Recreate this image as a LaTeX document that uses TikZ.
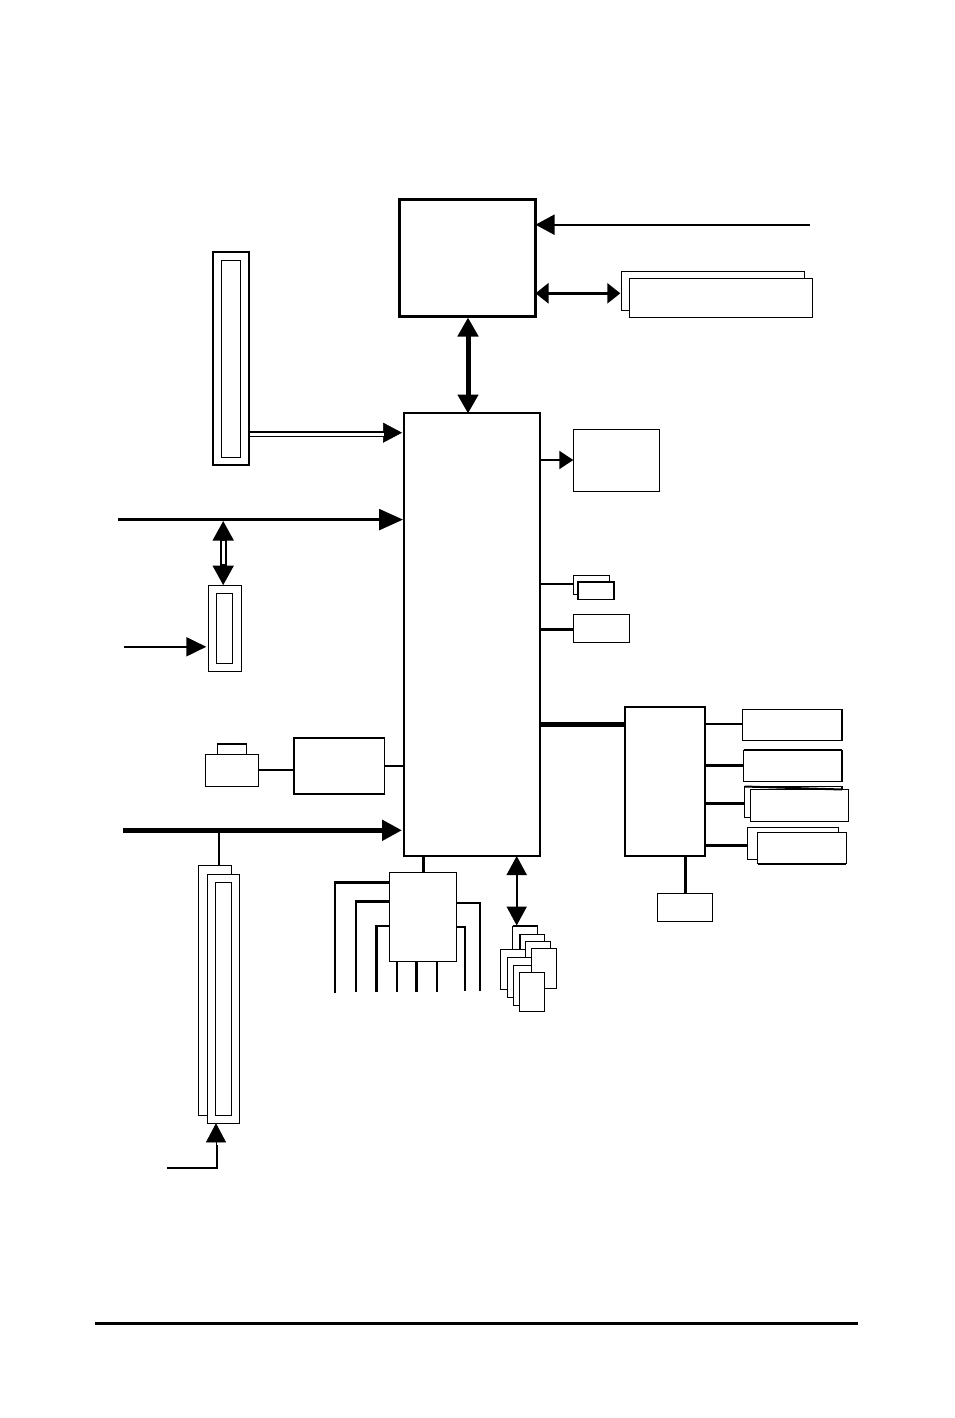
\documentclass[tikz,border=0pt]{standalone}
\usetikzlibrary{arrows.meta}
\tikzset{
  x=0.5pt,y=-0.5pt,
  hA/.tip={Triangle[length=9.5pt,width=10pt]},
  hB/.tip={Triangle[length=6.5pt,width=10pt]},
  hC/.tip={Triangle[length=7pt,width=9pt]},
  hD/.tip={Triangle[length=10pt,width=9.5pt]},
  hE/.tip={Triangle[length=10pt,width=10pt]},
  lw/.style={line width=#1*0.5pt},
  wire/.style={draw=black,line width=#1*0.5pt},
  bx/.style={draw=black,fill=white,inner sep=0pt,outer sep=0pt,line width=#1*0.5pt},
  bx/.default=1
}
\newcommand{\bxx}[6][1]{%
  \pgfmathsetmacro{\bxw}{abs(#5-#3)*0.5}%
  \pgfmathsetmacro{\bxh}{abs(#6-#4)*0.5}%
  \pgfmathsetmacro{\bxcx}{(#3+#5)/2}%
  \pgfmathsetmacro{\bxcy}{(#4+#6)/2}%
  \node[bx=#1,minimum width=\bxw pt,minimum height=\bxh pt] (#2) at (\bxcx,\bxcy) {};%
}
\begin{document}
\begin{tikzpicture}
\fill[white] (0,0) rectangle (954,1418);
\useasboundingbox (0,0) rectangle (954,1418);

% free ends
\coordinate (fsbR) at (810,224.7);
\coordinate (pciL) at (118,519.6);
\coordinate (auxL) at (124,646.8);
\coordinate (busL) at (122.7,830.3);
\coordinate (lowL) at (167,1168);
\coordinate (lowC) at (217,1168);
\coordinate (ruleL) at (95,1323);
\coordinate (ruleR) at (858,1323);
\coordinate (f1) at (335.3,992.5);
\coordinate (f2) at (356,991.7);
\coordinate (f3) at (376.3,991.7);
\coordinate (f4) at (397,991.7);
\coordinate (f5) at (416.3,991.7);
\coordinate (f6) at (437,991.7);
\coordinate (f7) at (465,990.7);
\coordinate (f8) at (480,990.7);

% main boxes
\bxx[2.7]{cpu}{399.3}{199.3}{535.5}{316.3}
\bxx[2.3]{main}{404}{413}{540}{856}
\bxx[1]{agpb}{573.3}{429.5}{659.7}{491.7}
\bxx[1]{memB}{621.3}{271}{804.7}{310.7}
\bxx[1.2]{memF}{629.3}{278.3}{812.2}{317.3}

% tall connector upper left
\bxx[1.3]{tallA}{213}{252}{249}{465}
\bxx[1]{tallAi}{221.3}{260}{240.7}{457.3}
% middle slot
\bxx[1]{slot}{208.3}{585.5}{241.7}{671.3}
\bxx[1]{sloti}{216.3}{593.5}{232.7}{663.3}
% bottom slots
\bxx[1]{lowB}{198.5}{865.5}{231.5}{1115}
\bxx[1]{lowF}{207.5}{874.5}{239.3}{1123.3}
\bxx[1]{lowI}{215.5}{882.5}{231.5}{1115.5}
% lan + phy
\bxx[1.5]{jack}{217.7}{744}{246.3}{754.5}
\bxx[1]{lan}{205.5}{754.5}{258.3}{786.3}
\bxx[1.3]{phy}{294}{738}{384.7}{794}
\draw[wire=1.7] (lan.north west) -- (lan.north east);

% small right
\bxx[1]{s1b}{573.5}{575.3}{609.7}{594.3}
\bxx[1.2]{s1f}{578}{582}{614}{599.3}
\bxx[1]{s2}{573.5}{614.5}{629.3}{642.3}

% hub and its peripherals
\bxx[2]{hub}{625.3}{707.3}{705.3}{856}
\bxx[1]{r1}{742.5}{709.5}{842}{740.3}
\bxx[1.2]{r2}{743.5}{750.3}{842}{781.3}
\bxx[1.2]{r3b}{744.5}{786.5}{842}{817.3}
\bxx[1]{r3f}{750.5}{789.5}{848.3}{821.3}
\bxx[1]{r4b}{747.5}{827.5}{838.3}{859.3}
\bxx[1.2]{r4f}{757.5}{832.5}{846.3}{863.7}
\bxx[1]{io}{657.5}{893.5}{712.3}{921.3}

% heavier sides
\draw[wire=2] (r1.north east) -- (r1.south east);
\draw[wire=2] (r2.north east) -- (r2.south east);
\draw[wire=2] (r2.north west) -- (r2.north east);
\draw[wire=2] (r3b.north west) -- (r3f.north -| r3b.east);
\draw[wire=2] (r4f.south west) -- (r4f.south east);
\draw[wire=2] (s1f.north east) -- (s1f.south east);

% south-side block
\bxx[1.2]{sio}{389.5}{872.5}{456.7}{961.5}

% cards
\bxx[1]{c1}{512.5}{926}{537.7}{966}
\bxx[1]{c2}{520}{934}{544.3}{974}
\bxx[1]{c3}{525.7}{941.5}{550.3}{981.5}
\bxx[1]{c4}{500.5}{949.5}{525.3}{989.3}
\bxx[1]{c5}{507.5}{957.5}{532}{997.3}
\bxx[1]{c6}{513.5}{965.5}{538}{1005.3}
\bxx[1]{c7}{531.5}{948.5}{556.5}{988.3}
\bxx[1]{c8}{519.5}{972.5}{544.3}{1011.5}
\draw[wire=1.7] (c1.north west) -- (c1.north east);
\draw[wire=1.7] (c2.north west) -- (c2.west |- c4.north);

% arrows at the CPU
\draw[wire=2,-{hA}] (fsbR) -- (cpu.east |- fsbR);
\draw[wire=2.7,{hB}-{hB},shorten >=0.5pt,shorten <=0pt] (cpu.east |- 0,293.3) -- (memB.west |- 0,293.3);
\draw[wire=5,{hA}-{hA}] (468,317.5) -- (468,413.5);

% upper left double line
\draw[wire=0.5,-{hA},shorten >=1pt] (tallA.east |- 0,432.7) -- (main.west |- 0,432.7);
\draw[wire=6.3] (tallA.east |- 0,434.2) -- ([xshift=-10pt]main.west |- 0,434.2);
\draw[white,lw=3] ([xshift=0.5pt]tallA.east |- 0,434.2) -- ([xshift=-10pt]main.west |- 0,434.2);

% PCI bus
\draw[wire=2.4,-{Triangle[length=12pt,width=10.5pt]},shorten >=0.5pt] (pciL) -- (main.west |- pciL);
\draw[wire=6.7,{hE}-{hE}] (223.2,520.7) -- (slot.north -| 223.2,0);
\draw[white,lw=2.5] (223.3,541) -- (223.3,564);
\draw[wire=2,-{hD},shorten >=1pt] (auxL) -- (slot.west |- auxL);

% lan connections
\draw[wire=1.7] (lan.east |- 0,770) -- (phy.west |- 0,770);
\draw[wire=1.7] (phy.east |- 0,765.7) -- (main.west |- 0,765.7);
% thick bus
\draw[wire=5,-{Triangle[length=10pt,width=10pt]},shorten >=1pt] (busL) -- (main.west |- busL);
\draw[wire=1.7] (219,830.3) -- (lowB.north -| 219,0);
% lower slot arrow
\draw[wire=2,line join=miter] (lowL) -- (lowC) -- (217,1145);
\draw[wire=0.5,-{hA}] (216,1146) -- (lowF.south -| 216,0);

% right side of main
\draw[wire=2,-{hC}] (main.east |- 0,460) -- (agpb.west |- 0,460);
\draw[wire=1.7] (main.east |- 0,584) -- (s1b.west |- 0,584);
\draw[wire=2.8] (main.east |- 0,629.3) -- (s2.west |- 0,629.3);
\draw[wire=4.7] (main.east |- 0,724.3) -- (hub.west |- 0,724.3);
% hub
\draw[wire=1.7] (hub.east |- 0,724) -- (r1.west |- 0,724);
\draw[wire=2.7] (hub.east |- 0,765.3) -- (r2.west |- 0,765.3);
\draw[wire=2.7] (hub.east |- 0,803.3) -- (r3b.west |- 0,803.3);
\draw[wire=2.7] (hub.east |- 0,845.3) -- (r4b.west |- 0,845.3);
\draw[wire=3] (hub.south -| 685.3,0) -- (io.north -| 685.3,0);

% below main
\draw[wire=3] (main.south -| 423.3,0) -- (sio.north -| 423.3,0);
\draw[wire=2,{hA}-{hA}] (516.7,856) -- (516.7,925.5);

% south-side lines
\draw[wire=2.7] (sio.west |- 0,882.3) -- (f1 |- 0,882.3);
\draw[wire=2] (335.3,881) -- (f1);
\draw[wire=2.7] (sio.west |- 0,901.3) -- (f2 |- 0,901.3);
\draw[wire=2] (356,900) -- (f2);
\draw[wire=2] (sio.west |- 0,926.3) -- (f3 |- 0,926.3);
\draw[wire=2.7] (376.3,925.3) -- (f3);
\draw[wire=2] (sio.south -| f4) -- (f4);
\draw[wire=3] (sio.south -| f5) -- (f5);
\draw[wire=2] (sio.south -| f6) -- (f6);
\draw[wire=2] (sio.east |- 0,927) -- (f7 |- 0,927) -- (f7);
\draw[wire=2] (sio.east |- 0,903) -- (f8 |- 0,903) -- (f8);

% bottom rule
\draw[wire=3] (ruleL) -- (ruleR);
\end{tikzpicture}
\end{document}
